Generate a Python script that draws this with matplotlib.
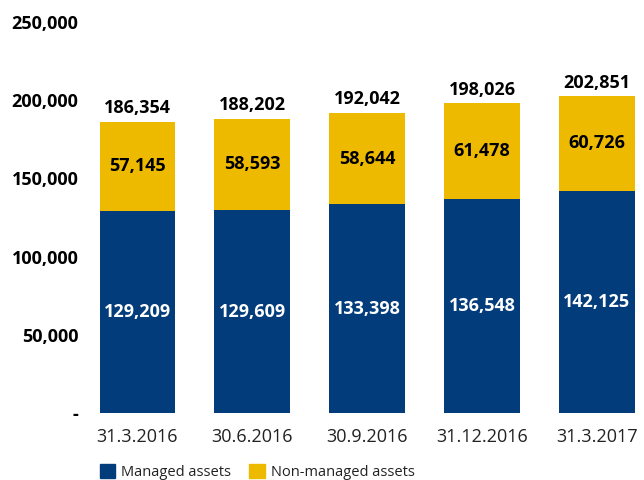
import matplotlib
matplotlib.use("Agg")
import matplotlib.pyplot as plt
from matplotlib.patches import Patch

plt.rcParams['font.family'] = ['Open Sans', 'DejaVu Sans']

# Data
dates = ["31.3.2016", "30.6.2016", "30.9.2016", "31.12.2016", "31.3.2017"]
managed = [129209, 129609, 133398, 136548, 142125]
non_managed = [57145, 58593, 58644, 61478, 60726]
totals = [186354, 188202, 192042, 198026, 202851]
y_ticks = [0, 50000, 100000, 150000, 200000, 250000]

BLUE = "#033c7a"
YELLOW = "#edba00"

fig = plt.figure(figsize=(6.44, 4.8), dpi=100)
ax = fig.add_axes([80 / 644, 67 / 480, 564 / 644, 391 / 480])

x = list(range(len(dates)))
ax.bar(x, managed, width=0.66, color=BLUE)
ax.bar(x, non_managed, width=0.66, bottom=managed, color=YELLOW)

for i in x:
    ax.text(i, managed[i] / 2, f"{managed[i]:,}", ha="center", va="center",
            color="white", fontsize=13, fontweight="bold")
    ax.text(i, managed[i] + non_managed[i] / 2, f"{non_managed[i]:,}",
            ha="center", va="center", color="black", fontsize=13, fontweight="bold")
    ax.annotate(f"{totals[i]:,}", (i, managed[i] + non_managed[i]),
                xytext=(0, 3), textcoords="offset points",
                ha="center", va="bottom", fontsize=13, fontweight="bold")

ax.set_xlim(-0.5, 4.41)
ax.set_ylim(0, 250000)
ax.set_yticks(y_ticks)
ax.set_yticklabels(["-" if v == 0 else f"{v:,}" for v in y_ticks],
                   fontsize=13, fontweight="bold")
ax.set_xticks(x)
ax.set_xticklabels(dates, fontsize=13, color="#222222")
ax.tick_params(axis="y", length=0, pad=1)
ax.tick_params(axis="x", length=0, pad=11)
for s in ax.spines.values():
    s.set_visible(False)

handles = [Patch(color=BLUE, label="Managed assets"),
           Patch(color=YELLOW, label="Non-managed assets")]
fig.legend(handles=handles, loc="lower left", bbox_to_anchor=(87 / 644, -0.027),
           ncol=2, frameon=False, fontsize=10.5, handlelength=1.05, handleheight=1.05,
           handletextpad=0.4, columnspacing=1.25, labelcolor="#222222")

fig.savefig("out.png", dpi=100)
